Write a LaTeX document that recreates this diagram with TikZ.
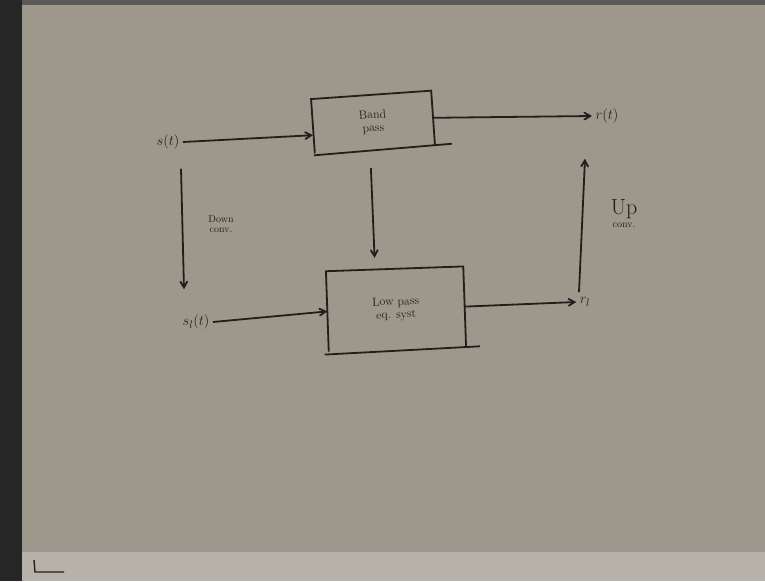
\documentclass[tikz,border=0pt]{standalone}
\usepackage{tikz}
\usetikzlibrary{arrows, calc, positioning}

\definecolor{board}{RGB}{158,151,140}
\definecolor{ink}{RGB}{34,30,28}

\begin{document}
\begin{tikzpicture}[x=1pt, y=-1pt]
  % the board behind the sketch
  \useasboundingbox (0,0) rectangle (765,581);
  \fill[board] (0,0) rectangle (765,581);
  \fill[black!85] (0,0) rectangle (22,581);
  \fill[black!65] (22,0) rectangle (765,5);
  \fill[board!75!white] (22,552) rectangle (765,581);
  \draw[ink, line width=1.4pt] (34,560) -- (35,572) -- (64,572);

  \tikzstyle{every node} = [text = ink, font = \fontsize{15}{17}\selectfont];
  \tikzstyle{block} = [shape = rectangle, align = center, font = \fontsize{12}{13}\selectfont];
  \tikzstyle{pen} = [draw = ink, line width = 1.8pt];
  \tikzstyle{wire} = [pen, ->, >=angle 60];

  \node (s) at (168,142) {$s(t)$};
  \node[block, rotate = 4, minimum width = 120, minimum height = 54] (bp) at (373,122) {Band\\pass};
  \node (r) at (607,116) {$r(t)$};

  \node (sl) at (196,322) {$s_l(t)$};
  \node[block, rotate = 2, minimum width = 137, minimum height = 80] (lp) at (396,309) {Low pass\\eq. syst};
  \node (rl) at (585,302) {$r_l$};

  \node[font = \fontsize{10}{10}\selectfont, align = center] (dc) at (221,224) {Down\\conv.};
  \node[align = center] (uc) at (624,214) {\fontsize{22}{22}\selectfont Up\\[-4pt]\fontsize{10}{10}\selectfont conv.};

  % boxes: three sides, and a long bottom edge
  \draw[pen] (bp.south west) -- (bp.north west) -- (bp.north east) -- (bp.south east);
  \draw[pen] ($(bp.south west)+(-1,2)$) -- ($(bp.south west)!1.14!(bp.south east)$);
  \draw[pen] (lp.south west) -- (lp.north west) -- (lp.north east) -- (lp.south east);
  \draw[pen] ($(lp.south west)+(-4,3)$) -- ($(lp.south west)!1.1!(lp.south east)$);

  \draw[wire] (s.east) -- ($(bp.west)+(0,9)$);
  \draw[wire] ($(s.south)+(13,16)$) -- ($(sl.north)+(-12,-22)$);
  \draw[wire] ($(bp.south)+(-4,19)$) -- ($(lp.north)+(-20,-11)$);
  \draw[wire] (bp.east) -- (r.west);
  \draw[wire] (sl.east) -- (lp.west);
  \draw[wire] (lp.east) -- (rl.west);
  \draw[wire] ($(rl.north)+(-6,-2)$) -- ($(r.south)+(-22,32)$);
\end{tikzpicture}
\end{document}
